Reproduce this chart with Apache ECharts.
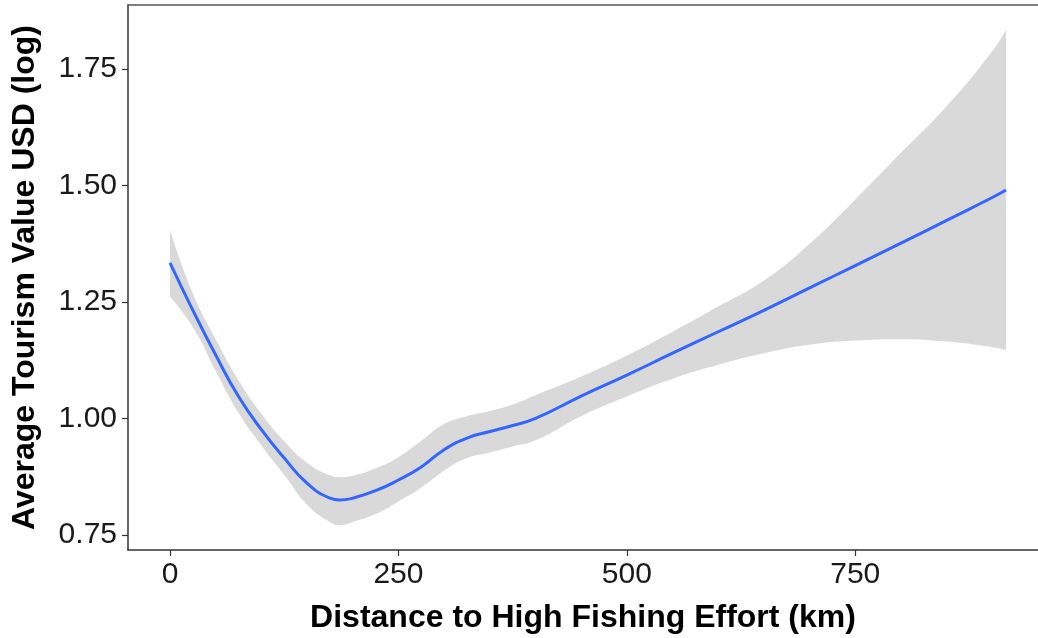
<!DOCTYPE html>
<html>
<head>
<meta charset="utf-8">
<style>
  html, body { margin: 0; padding: 0; background: #ffffff; }
  #chart { width: 1038px; height: 638px; }
</style>
<script src="https://cdn.jsdelivr.net/npm/echarts@6/dist/echarts.min.js"></script>
</head>
<body>
<div id="chart"></div>
<script>
// Smoothed fit of tourism value against distance, with its confidence band
const distanceKm = [0, 25, 50, 75, 100, 125, 150, 175, 186, 200, 225, 250, 275, 300, 325, 350, 375, 400, 450, 500, 550, 600, 650, 700, 750, 800, 850, 900, 915];
const fitValue   = [1.334, 1.232, 1.136, 1.047, 0.976, 0.915, 0.861, 0.829, 0.825, 0.829, 0.845, 0.868, 0.896, 0.933, 0.958, 0.972, 0.985, 1.000, 1.048, 1.093, 1.140, 1.186, 1.232, 1.280, 1.328, 1.376, 1.425, 1.474, 1.490];
const bandUpper  = [1.405, 1.268, 1.170, 1.082, 1.010, 0.951, 0.905, 0.878, 0.874, 0.877, 0.893, 0.917, 0.952, 0.988, 1.005, 1.016, 1.030, 1.050, 1.090, 1.135, 1.186, 1.240, 1.296, 1.375, 1.470, 1.570, 1.670, 1.788, 1.834];
const bandLower  = [1.261, 1.196, 1.102, 1.012, 0.942, 0.879, 0.815, 0.778, 0.771, 0.778, 0.795, 0.822, 0.852, 0.888, 0.915, 0.927, 0.940, 0.953, 1.005, 1.047, 1.085, 1.115, 1.140, 1.158, 1.167, 1.170, 1.165, 1.153, 1.147];
const xTicks = [0, 250, 500, 750];
const yTicks = [0.75, 1.00, 1.25, 1.50, 1.75];

const pairs = (ys) => distanceKm.map((x, i) => [x, ys[i]]);

const FONT = 'Liberation Sans, Arial, Helvetica, sans-serif';
const chart = echarts.init(document.getElementById('chart'), null, { renderer: 'canvas' });

chart.setOption({
  animation: false,
  backgroundColor: '#ffffff',
  grid: { left: 128, right: 0, top: 5, bottom: 88, containLabel: false, outerBoundsMode: 'none' },
  xAxis: [
    {
      type: 'value',
      min: -46,
      max: 950,
      z: 10,
      name: 'Distance to High Fishing Effort (km)',
      nameLocation: 'middle',
      nameGap: 52,
      nameTextStyle: { fontFamily: FONT, fontSize: 32, fontWeight: 'bold', color: '#000' },
      axisLine: { show: true, onZero: false, lineStyle: { color: '#333', width: 1.5 } },
      axisTick: { show: true, customValues: xTicks, length: 6, lineStyle: { color: '#333', width: 1.2 } },
      axisLabel: { customValues: xTicks, margin: 10, fontFamily: FONT, fontSize: 30, color: '#1a1a1a' },
      splitLine: { show: false }
    },
    {
      type: 'value',
      position: 'top',
      min: -46,
      max: 950,
      z: 10,
      axisLine: { show: true, onZero: false, lineStyle: { color: '#555', width: 1.5 } },
      axisTick: { show: false },
      axisLabel: { show: false },
      splitLine: { show: false }
    }
  ],
  yAxis: {
    type: 'value',
    min: 0.7178,
    max: 1.887,
    z: 10,
    name: 'Average Tourism Value USD (log)',
    nameLocation: 'middle',
    nameGap: 87,
    nameTextStyle: { fontFamily: FONT, fontSize: 32, fontWeight: 'bold', color: '#000' },
    axisLine: { show: true, onZero: false, lineStyle: { color: '#333', width: 1.5 } },
    axisTick: { show: true, customValues: yTicks, length: 6, lineStyle: { color: '#333', width: 1.2 } },
    axisLabel: {
      customValues: yTicks, margin: 11, fontFamily: FONT, fontSize: 30, color: '#1a1a1a',
      formatter: (v) => v.toFixed(2)
    },
    splitLine: { show: false }
  },
  series: [
    {
      // upper edge of the band, filled down to the plot floor
      type: 'line',
      data: pairs(bandUpper),
      smooth: true,
      showSymbol: false,
      lineStyle: { width: 0 },
      areaStyle: { color: '#d9d9d9', opacity: 1, origin: 'start' },
      silent: true,
      z: 1
    },
    {
      // lower edge of the band, cleared back to the background
      type: 'line',
      data: pairs(bandLower),
      smooth: true,
      showSymbol: false,
      lineStyle: { width: 0 },
      areaStyle: { color: '#ffffff', opacity: 1, origin: 'start' },
      silent: true,
      z: 2
    },
    {
      type: 'line',
      data: pairs(fitValue),
      smooth: true,
      showSymbol: false,
      lineStyle: { color: '#3366ff', width: 3 },
      z: 3
    }
  ]
});
</script>
</body>
</html>
